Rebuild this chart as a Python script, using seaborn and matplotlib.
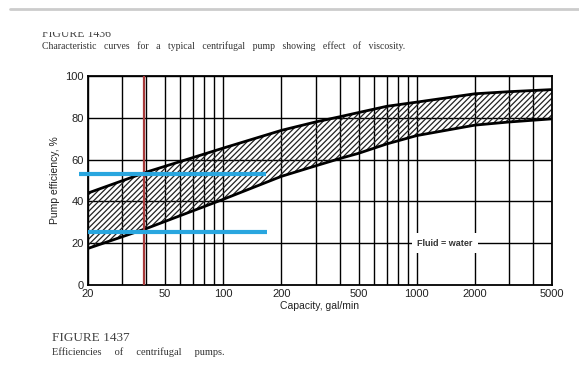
import numpy as np
import pandas as pd
import matplotlib
matplotlib.use("Agg")
import matplotlib.pyplot as plt
import seaborn as sns

capacity = [20, 40, 100, 200, 300, 400, 500, 700, 1000, 2000, 3000, 5000]
upper_eff = [44, 54, 65.5, 74, 78, 80.5, 82.5, 85.5, 87.5, 91.5, 92.5, 93.5]
lower_eff = [17.5, 27, 41, 52, 57, 60.5, 63, 67.5, 71.5, 76.5, 78, 79.5]

grid_x = [20, 30, 40, 50, 60, 70, 80, 90, 100, 200, 300, 400, 500, 600, 700,
          800, 900, 1000, 2000, 3000, 4000, 5000]
grid_y = [20, 40, 60, 80, 100]
xticks = [20, 50, 100, 200, 500, 1000, 2000, 5000]
yticks = [0, 20, 40, 60, 80, 100]

red_x = 39
blue_top = ([18, 166], [53, 53])
blue_bot = ([20, 168], [25.5, 25.5])

df = pd.DataFrame({"capacity": capacity * 2,
                   "eff": upper_eff + lower_eff,
                   "curve": ["upper"] * len(capacity) + ["lower"] * len(capacity)})

sns.set_style("white")
plt.rcParams["font.family"] = ["Liberation Sans", "DejaVu Sans"]
plt.rcParams["hatch.linewidth"] = 0.9

fig = plt.figure(figsize=(5.79, 3.69), dpi=100)
ax = fig.add_axes([88 / 579, 1 - 285 / 369, 464 / 579, 209 / 369])
ax.set_xscale("log")
ax.set_xlim(20, 5000)
ax.set_ylim(0, 100)

for gx in grid_x:
    ax.axvline(gx, color="black", lw=1.0, zorder=1)
for gy in grid_y:
    ax.axhline(gy, color="black", lw=1.0, zorder=1)

# hatched band between the curves
ax.fill_between(capacity, lower_eff, upper_eff, facecolor="none",
                edgecolor="#222222", hatch="//////", lw=0, zorder=2)
sns.lineplot(data=df, x="capacity", y="eff", units="curve", estimator=None,
             color="black", lw=2.0, ax=ax, zorder=3)

ax.text(1400, 20, "Fluid = water", fontsize=6.5, fontweight="bold", color="#333333",
        ha="center", va="center", zorder=4,
        bbox=dict(facecolor="white", edgecolor="none", pad=4))

ax.axvline(red_x, color="#a83a3a", lw=1.6, zorder=5)
ax.plot(*blue_top, color="#29a6df", lw=3, zorder=6, clip_on=False, solid_capstyle="butt")
ax.plot(*blue_bot, color="#29a6df", lw=3, zorder=6, clip_on=False, solid_capstyle="butt")

ax.set_xticks(xticks)
ax.set_xticklabels([str(t) for t in xticks])
ax.xaxis.set_minor_locator(matplotlib.ticker.NullLocator())
ax.set_yticks(yticks)
ax.tick_params(labelsize=8, length=0, pad=3, colors="#222222")
for s in ax.spines.values():
    s.set_color("black")
    s.set_linewidth(1.3)

ax.set_xlabel("Capacity, gal/min", fontsize=7.5, color="#222222", labelpad=1)
ax.set_ylabel("Pump efficiency, %", fontsize=7.5, color="#222222", labelpad=4)

# page text around the chart
fig.add_artist(plt.Line2D([10 / 579, 1], [1 - 9 / 369] * 2, color="#cccccc", lw=2))
fig.text(42 / 579, 1 - 34 / 369, "FIGURE 1436", fontsize=8.5, family="Liberation Serif",
         color="#444444", va="center")
fig.add_artist(plt.Rectangle((0, 1 - 32 / 369), 1, 12 / 369, transform=fig.transFigure,
                             facecolor="white", edgecolor="none", zorder=10))
fig.text(42 / 579, 1 - 46 / 369,
         "Characteristic   curves   for   a   typical   centrifugal   pump   showing   effect   of   viscosity.",
         fontsize=7, family="Liberation Serif", color="#333333", va="center")
fig.text(52 / 579, 1 - 338 / 369, "FIGURE 1437", fontsize=9.5, family="Liberation Serif",
         color="#444444", va="center")
fig.text(52 / 579, 1 - 352 / 369, "Efficiencies     of     centrifugal     pumps.",
         fontsize=7.5, family="Liberation Serif", color="#333333", va="center")

fig.savefig("out.png", dpi=100, facecolor="white")
